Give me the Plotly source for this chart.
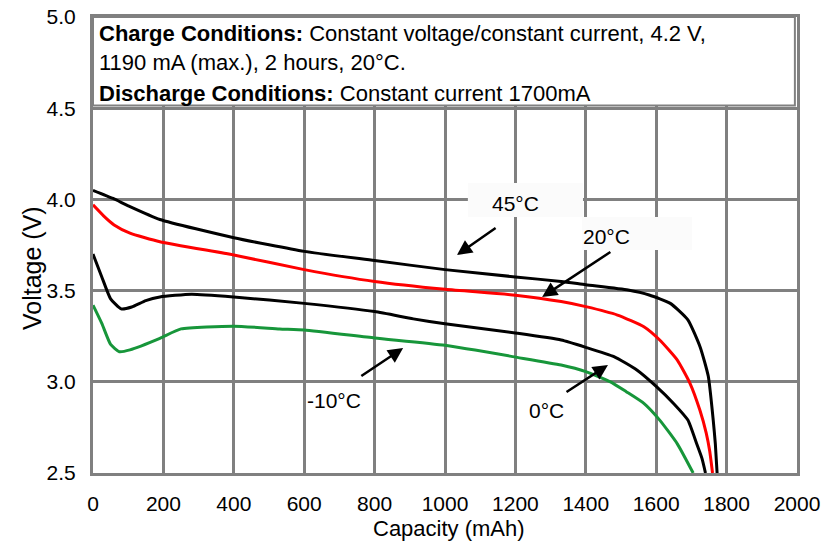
import plotly.graph_objects as go

# ---- data ----
cap_45 = [0, 57, 100, 190, 400, 600, 800, 1000, 1200, 1330, 1400, 1520, 1580, 1640, 1690, 1725, 1748, 1762, 1768, 1773]
v_45 = [4.05, 4.005, 3.965, 3.89, 3.79, 3.715, 3.665, 3.615, 3.575, 3.55, 3.532, 3.503, 3.476, 3.43, 3.34, 3.19, 3.03, 2.79, 2.66, 2.5]

cap_20 = [0, 30, 60, 105, 190, 400, 600, 800, 1000, 1200, 1330, 1400, 1490, 1565, 1610, 1660, 1696, 1724, 1742, 1752, 1760]
v_20 = [3.97, 3.91, 3.86, 3.815, 3.768, 3.695, 3.615, 3.55, 3.507, 3.475, 3.44, 3.412, 3.366, 3.302, 3.229, 3.119, 2.992, 2.845, 2.72, 2.62, 2.5]

cap_0 = [0, 25, 50, 80, 110, 150, 190, 280, 400, 600, 800, 910, 1000, 1205, 1330, 1400, 1480, 1545, 1600, 1650, 1690, 1715, 1730, 1740]
v_0 = [3.70, 3.575, 3.455, 3.40, 3.41, 3.445, 3.465, 3.48, 3.465, 3.43, 3.385, 3.345, 3.318, 3.266, 3.229, 3.189, 3.138, 3.065, 2.975, 2.88, 2.79, 2.66, 2.58, 2.5]

cap_m10 = [0, 25, 50, 75, 105, 190, 250, 400, 530, 600, 800, 1000, 1205, 1330, 1400, 1470, 1515, 1565, 1610, 1660, 1705]
v_m10 = [3.42, 3.32, 3.205, 3.165, 3.175, 3.238, 3.29, 3.305, 3.29, 3.284, 3.24, 3.20, 3.134, 3.092, 3.056, 3.0, 2.946, 2.882, 2.79, 2.66, 2.5]

x_ticks = [0, 200, 400, 600, 800, 1000, 1200, 1400, 1600, 1800, 2000]
y_ticks = [2.5, 3.0, 3.5, 4.0, 4.5, 5.0]

series = [
    ("45°C", cap_45, v_45, "#000000"),
    ("20°C", cap_20, v_20, "#ff0000"),
    ("0°C", cap_0, v_0, "#000000"),
    ("-10°C", cap_m10, v_m10, "#17963a"),
]

FONT = "Liberation Sans, Arial, sans-serif"
GRID = "#808080"

fig = go.Figure()
for name, xs, ys, col in series:
    fig.add_trace(go.Scatter(x=xs, y=ys, mode="lines", name=name,
                             line=dict(color=col, width=3, shape="spline", smoothing=0.5),
                             showlegend=False, hoverinfo="skip"))

shapes = [
    # condition text box
    dict(type="rect", xref="paper", yref="y", x0=0.0, x1=0.997, y0=4.515, y1=5.0,
         fillcolor="white", line=dict(color=GRID, width=2), layer="above"),
    # label backgrounds
    dict(type="rect", xref="x", yref="y", x0=1065, x1=1392, y0=3.904, y1=4.09,
         fillcolor="#fbfbfb", line=dict(width=0), layer="between"),
    dict(type="rect", xref="x", yref="y", x0=1389, x1=1702, y0=3.723, y1=3.904,
         fillcolor="#fbfbfb", line=dict(width=0), layer="between"),
]

annotations = []
# box text
box_lines = [
    ("<b>Charge Conditions:</b> Constant voltage/constant current, 4.2 V,", 4.912),
    ("1190 mA (max.), 2 hours, 20°C.", 4.748),
    ("<b>Discharge Conditions:</b> Constant current 1700mA", 4.583),
]
for txt, yy in box_lines:
    annotations.append(dict(text=txt, xref="paper", yref="y", x=0.006, y=yy,
                            xanchor="left", yanchor="middle", showarrow=False,
                            font=dict(family=FONT, size=22, color="black")))

# curve labels
labels = [("45°C", 1199, 3.98), ("20°C", 1460, 3.794), ("-10°C", 685, 2.90), ("0°C", 1287, 2.845)]
for txt, xx, yy in labels:
    annotations.append(dict(text=txt, x=xx, y=yy, xref="x", yref="y", showarrow=False,
                            xanchor="center", yanchor="middle",
                            font=dict(family=FONT, size=21, color="black")))

# arrows: (head x, head y, tail x, tail y)
arrows = [(1034, 3.695, 1148, 3.849), (1276, 3.465, 1474, 3.717),
          (881, 3.185, 758, 3.026), (1463, 3.092, 1341, 2.939)]
for hx, hy, tx, ty in arrows:
    annotations.append(dict(text="", x=hx, y=hy, ax=tx, ay=ty, xref="x", yref="y",
                            axref="x", ayref="y", showarrow=True, arrowhead=2,
                            arrowsize=1.2, arrowwidth=2.5, arrowcolor="black"))

# axis titles
annotations.append(dict(text="Capacity (mAh)", xref="paper", yref="paper", x=0.5057, y=-0.1228,
                        xanchor="center", yanchor="middle", showarrow=False,
                        font=dict(family=FONT, size=22, color="black")))
annotations.append(dict(text="Voltage (V)", xref="paper", yref="paper", x=-0.0866, y=0.4496,
                        xanchor="center", yanchor="middle", showarrow=False, textangle=-90,
                        font=dict(family=FONT, size=25, color="black")))

fig.update_layout(
    width=832, height=548,
    margin=dict(l=93, r=35, t=17, b=75, autoexpand=False),
    paper_bgcolor="white", plot_bgcolor="white",
    font=dict(family=FONT, size=21, color="black"),
    shapes=shapes, annotations=annotations,
    xaxis=dict(range=[0, 2000], tickvals=x_ticks, ticktext=[str(v) for v in x_ticks],
               showgrid=True, gridcolor=GRID, gridwidth=3, zeroline=False,
               showline=True, linecolor=GRID, linewidth=3, mirror=True,
               ticks="", ticklabelstandoff=10, automargin=False,
               ticklabeloverflow="allow",
               tickfont=dict(family=FONT, size=21, color="black")),
    yaxis=dict(range=[2.5, 5.0], tickvals=y_ticks, ticktext=[f"{v:.1f}" for v in y_ticks],
               showgrid=True, gridcolor=GRID, gridwidth=3, zeroline=False,
               showline=True, linecolor=GRID, linewidth=3, mirror=True,
               ticks="", ticklabelstandoff=10, automargin=False,
               ticklabeloverflow="allow",
               tickfont=dict(family=FONT, size=21, color="black")),
)

# remove the browser's default page margin so the 832x548 figure fills the window exactly
fig.write_html("out.html", config={"displayModeBar": False},
               post_script="document.body.style.margin='0';document.body.style.overflow='hidden';")
